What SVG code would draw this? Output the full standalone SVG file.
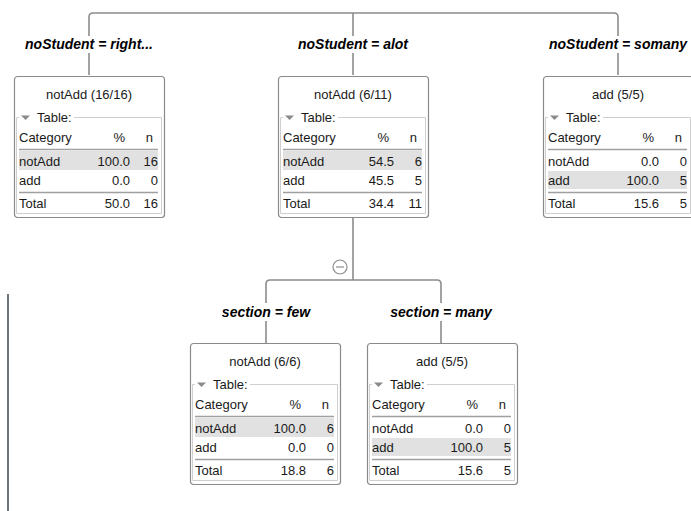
<svg xmlns="http://www.w3.org/2000/svg" width="691" height="511" viewBox="0 0 691 511">
<style>
text{font-family:"Liberation Sans",Arial,sans-serif;font-size:13px;fill:#1a1a1a}
.lbl{font-weight:bold;font-style:italic;font-size:14px;text-anchor:middle;fill:#000}
.box{fill:#fff;stroke:#8a8a8a;stroke-width:1.2}
.fs{fill:none;stroke:#cfcfcf;stroke-width:1}
.tri{fill:#8a8a8a}
.rule{stroke:#a0a0a0;stroke-width:1.3}
.hl{fill:#e1e1e1}
.t{text-anchor:middle}
.e{text-anchor:end}
.con{fill:none;stroke:#8c8c8c;stroke-width:1.6}
</style>
<defs>
<g id="frame">
<rect class="box" x="0.5" y="0.5" width="150" height="141" rx="3"/>
<path class="fs" d="M5 41.5H2.5V137.5H147.5V41.5H60"/>
<polygon class="tri" points="7,39.5 16,39.5 11.5,44"/>
<text x="23" y="46">Table:</text>
<text x="5" y="65.5">Category</text>
<text class="e" x="111" y="65.5">%</text>
<text class="e" x="139" y="65.5">n</text>
<line class="rule" x1="5" y1="73.5" x2="144" y2="73.5"/>
<line class="rule" x1="5" y1="116.5" x2="144" y2="116.5"/>
<text x="5" y="131.5">Total</text>
</g>
</defs>
<g id="connectors">
<path class="con" d="M89 75V53M89 36V17Q89 13 93 13H614Q618 13 618 17V36M618 53V75"/>
<path class="con" d="M353 13V36M353 53V75"/>
<path class="con" d="M353 217V280M266 343V321M266 303V284Q266 280 270 280H437Q441 280 441 284V303M441 321V343"/>
<circle cx="340" cy="267" r="7" fill="#fff" stroke="#8c8c8c" stroke-width="1.2"/>
<line x1="336" y1="267" x2="344" y2="267" stroke="#8c8c8c" stroke-width="1.2"/>
<text class="lbl" x="89" y="49">noStudent = right...</text>
<text class="lbl" x="353" y="49">noStudent = alot</text>
<text class="lbl" x="618" y="49">noStudent = somany</text>
<text class="lbl" x="266" y="317">section = few</text>
<text class="lbl" x="441" y="317">section = many</text>
</g>
<line x1="8" y1="294" x2="8" y2="511" stroke="#6d747a" stroke-width="2"/>
<g id="node1" transform="translate(14,76)">
<use href="#frame"/>
<rect class="hl" x="5" y="75" width="139" height="19"/>
<text class="t" x="75" y="22.5">notAdd (16/16)</text>
<text x="5" y="89.5">notAdd</text><text class="e" x="116" y="89.5">100.0</text><text class="e" x="144" y="89.5">16</text>
<text x="5" y="108.5">add</text><text class="e" x="116" y="108.5">0.0</text><text class="e" x="144" y="108.5">0</text>
<text class="e" x="116" y="131.5">50.0</text><text class="e" x="144" y="131.5">16</text>
</g>
<g id="node2" transform="translate(278,76)">
<use href="#frame"/>
<rect class="hl" x="5" y="75" width="139" height="19"/>
<text class="t" x="75" y="22.5">notAdd (6/11)</text>
<text x="5" y="89.5">notAdd</text><text class="e" x="116" y="89.5">54.5</text><text class="e" x="144" y="89.5">6</text>
<text x="5" y="108.5">add</text><text class="e" x="116" y="108.5">45.5</text><text class="e" x="144" y="108.5">5</text>
<text class="e" x="116" y="131.5">34.4</text><text class="e" x="144" y="131.5">11</text>
</g>
<g id="node3" transform="translate(543,76)">
<use href="#frame"/>
<rect class="hl" x="5" y="95" width="139" height="18"/>
<text class="t" x="75" y="22.5">add (5/5)</text>
<text x="5" y="89.5">notAdd</text><text class="e" x="116" y="89.5">0.0</text><text class="e" x="144" y="89.5">0</text>
<text x="5" y="108.5">add</text><text class="e" x="116" y="108.5">100.0</text><text class="e" x="144" y="108.5">5</text>
<text class="e" x="116" y="131.5">15.6</text><text class="e" x="144" y="131.5">5</text>
</g>
<g id="node4" transform="translate(190,343)">
<use href="#frame"/>
<rect class="hl" x="5" y="75" width="139" height="19"/>
<text class="t" x="75" y="22.5">notAdd (6/6)</text>
<text x="5" y="89.5">notAdd</text><text class="e" x="116" y="89.5">100.0</text><text class="e" x="144" y="89.5">6</text>
<text x="5" y="108.5">add</text><text class="e" x="116" y="108.5">0.0</text><text class="e" x="144" y="108.5">0</text>
<text class="e" x="116" y="131.5">18.8</text><text class="e" x="144" y="131.5">6</text>
</g>
<g id="node5" transform="translate(367,343)">
<use href="#frame"/>
<rect class="hl" x="5" y="95" width="139" height="18"/>
<text class="t" x="75" y="22.5">add (5/5)</text>
<text x="5" y="89.5">notAdd</text><text class="e" x="116" y="89.5">0.0</text><text class="e" x="144" y="89.5">0</text>
<text x="5" y="108.5">add</text><text class="e" x="116" y="108.5">100.0</text><text class="e" x="144" y="108.5">5</text>
<text class="e" x="116" y="131.5">15.6</text><text class="e" x="144" y="131.5">5</text>
</g>
</svg>
